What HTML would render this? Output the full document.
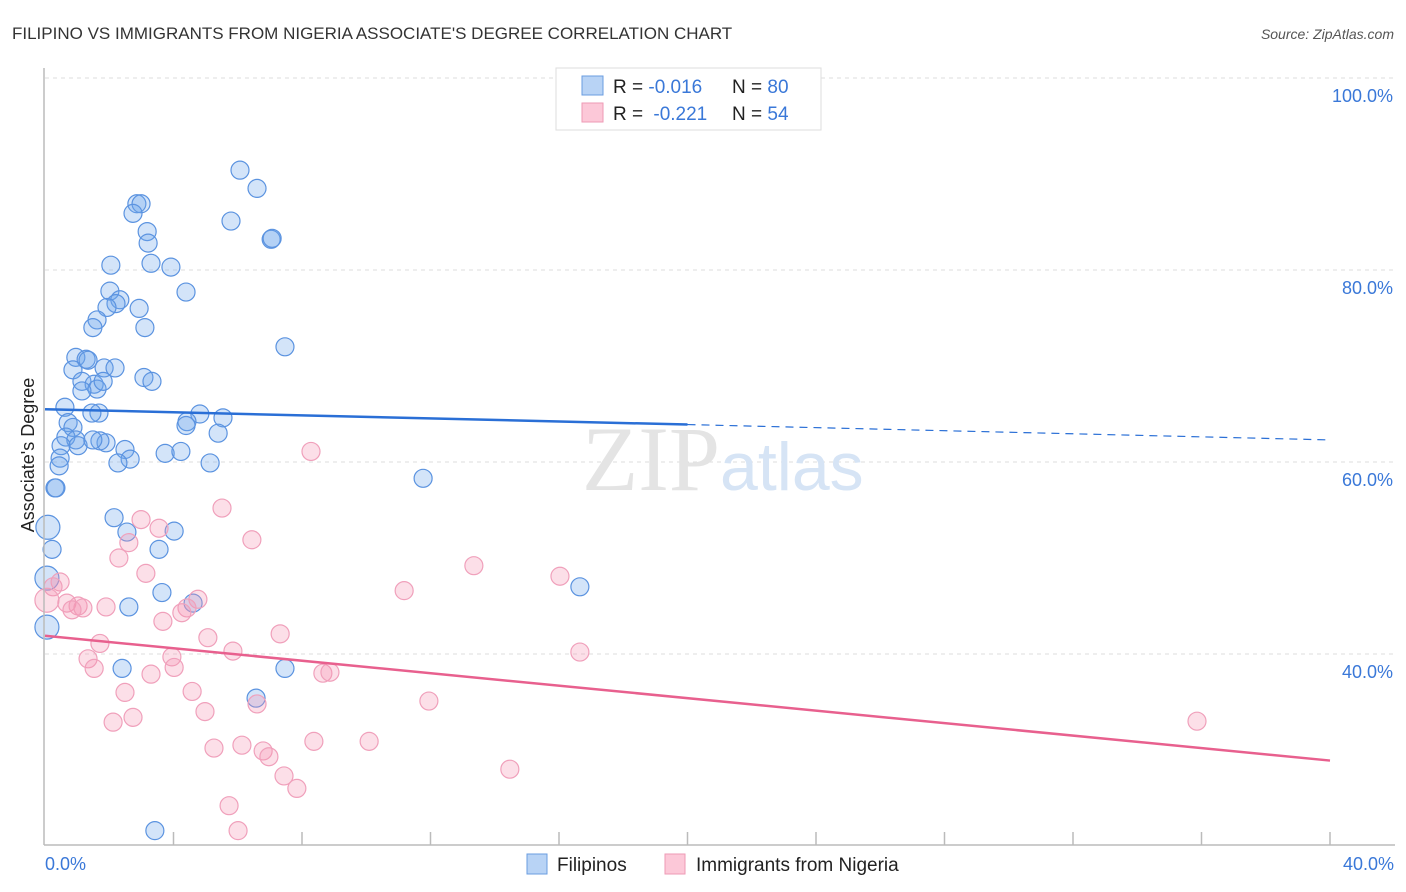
<!DOCTYPE html>
<html><head><meta charset="utf-8"><style>
body{margin:0;background:#fff;font-family:"Liberation Sans",sans-serif;}
svg{display:block}
</style></head><body>
<svg id="chart" width="1406" height="892">
<text x="12" y="39" font-size="17" fill="#333">FILIPINO VS IMMIGRANTS FROM NIGERIA ASSOCIATE'S DEGREE CORRELATION CHART</text>
<text x="1394" y="39" font-size="14" fill="#555" font-style="italic" text-anchor="end">Source: ZipAtlas.com</text>
<g id="grid"></g>
<text x="720" y="490" font-size="92" fill="#e4e4e4" font-family="Liberation Serif" text-anchor="end">ZIP</text>
<text x="720" y="490" font-size="68" fill="#d6e4f5">atlas</text>
<g id="pts"></g>
<g id="lines"></g>
<line x1="44" y1="68" x2="44" y2="845" stroke="#bbb" stroke-width="1.5"/>
<line x1="44" y1="845" x2="1395" y2="845" stroke="#bbb" stroke-width="1.5"/>
<g id="xticks"></g>
<text x="45" y="870" font-size="18" fill="#3a78d8">0.0%</text>
<text x="1394" y="870" font-size="18" fill="#3a78d8" text-anchor="end">40.0%</text>
<text transform="translate(34,455) rotate(-90)" font-size="18" fill="#222" text-anchor="middle">Associate's Degree</text>
<g>
<rect x="556" y="68" width="265" height="62" fill="#fff" stroke="#ddd"/>
<rect x="582" y="76" width="21" height="19" fill="#b8d3f5" stroke="#6a9de0"/>
<rect x="582" y="103" width="21" height="19" fill="#fcc8d8" stroke="#ee9ab5"/>
<text x="613" y="93" font-size="19" fill="#222">R = <tspan fill="#3a78d8">-0.016</tspan><tspan x="732">N = </tspan><tspan fill="#3a78d8">80</tspan></text>
<text x="613" y="120" font-size="19" fill="#222">R = <tspan fill="#3a78d8" dx="5">-0.221</tspan><tspan x="732">N = </tspan><tspan fill="#3a78d8">54</tspan></text>
</g>
<g>
<rect x="527" y="854" width="20" height="20" fill="#b8d3f5" stroke="#6a9de0"/>
<text x="557" y="871" font-size="19" fill="#222">Filipinos</text>
<rect x="665" y="854" width="20" height="20" fill="#fcc8d8" stroke="#ee9ab5"/>
<text x="696" y="871" font-size="19" fill="#222">Immigrants from Nigeria</text>
</g>
</svg>
<script>
const blueX=[6.07,6.60,5.79,7.04,7.07,2.86,2.99,2.74,3.18,3.21,3.30,3.92,2.05,4.39,2.02,2.33,2.21,1.93,2.93,1.62,1.49,3.11,7.47,0.96,1.28,1.34,0.87,1.84,2.18,3.08,3.33,1.15,1.53,1.62,1.81,1.15,0.62,1.68,1.46,4.82,5.54,4.42,4.39,0.72,0.87,5.39,0.65,0.96,1.90,2.49,0.50,1.03,3.74,4.23,2.65,0.47,5.14,2.27,0.44,11.77,0.31,0.34,0.09,0.22,2.15,2.55,4.02,3.55,0.06,3.64,4.61,2.61,0.06,2.40,7.47,16.65,6.57,3.42,1.71,1.49];
const blueY=[90.4,88.5,85.1,83.2,83.3,86.9,86.9,85.9,84.0,82.8,80.7,80.3,80.5,77.7,77.8,76.9,76.5,76.1,76.0,74.8,74.0,74.0,72.0,70.9,70.7,70.6,69.6,69.8,69.8,68.8,68.4,68.4,68.1,67.6,68.4,67.4,65.7,65.1,65.1,65.0,64.6,64.2,63.8,64.1,63.6,63.0,62.6,62.3,62.0,61.3,61.7,61.7,60.9,61.1,60.3,60.4,59.9,59.9,59.6,58.3,57.3,57.3,53.2,50.9,54.2,52.7,52.8,50.9,47.9,46.4,45.3,44.9,42.8,38.5,38.5,47.0,35.4,21.6,62.2,62.3];
const pinkX=[5.51,2.99,3.55,2.61,6.44,2.30,3.14,0.47,0.25,0.68,1.03,1.18,0.84,1.90,4.76,4.42,4.26,3.67,5.07,7.32,1.71,5.85,3.95,1.34,1.53,4.02,3.30,8.65,8.87,2.49,4.58,6.60,4.98,2.74,2.12,5.26,6.13,6.79,6.97,8.37,10.09,7.44,7.84,5.73,6.01,8.28,13.35,16.03,11.18,16.65,11.95,14.47,35.86,0.06];
const pinkY=[55.2,54.0,53.1,51.6,51.9,50.0,48.4,47.5,47.0,45.3,45.0,44.8,44.6,44.9,45.7,44.8,44.3,43.4,41.7,42.1,41.1,40.3,39.7,39.5,38.5,38.6,37.9,38.0,38.1,36.0,36.1,34.8,34.0,33.4,32.9,30.2,30.5,29.9,29.3,30.9,30.9,27.3,26.0,24.2,21.6,61.1,49.2,48.1,46.6,40.2,35.1,28.0,33.0,45.6];
const yTicks=[100,80,60,40];
const yTickLabels=["100.0%","80.0%","60.0%","40.0%"];
const xTickVals=[4,8,12,16,20,24,28,32,36,40];
const blueTrend=[65.5,62.3];
const pinkTrend=[41.9,28.9];
const NS='http://www.w3.org/2000/svg';
const sx=v=>45+v*32.125, sy=v=>78+(100-v)*9.6;
function mk(t,a,p){const e=document.createElementNS(NS,t);for(const k in a)e.setAttribute(k,a[k]);p.appendChild(e);return e;}
const grid=document.getElementById('grid');
yTicks.forEach((v,i)=>{
 const l=mk('line',{x1:45,x2:1395,y1:sy(v),y2:sy(v),stroke:'#ddd','stroke-dasharray':'4,4'},grid);
 
 
 const t=mk('text',{x:1393,y:sy(v)+24,'font-size':18,fill:'#3a78d8','text-anchor':'end'},grid);
 t.textContent=yTickLabels[i];
 
 
});
const xt=document.getElementById('xticks');
xTickVals.forEach(v=>{
 const l=mk('line',{x1:sx(v),x2:sx(v),y1:832,y2:845,stroke:'#bbb','stroke-width':1.5},xt);
 
 
});
const pts=document.getElementById('pts');
function draw(X,Y,fill,stroke,name){X.forEach((x,i)=>{
 const c=mk('circle',{cx:sx(x),cy:sy(Y[i]),r:x<0.2?12:9,fill:fill,stroke:stroke,'stroke-width':1.2},pts);
 
 
});}
draw(blueX,blueY,'rgba(110,165,235,0.3)','#5b93e0','filipino-point');
draw(pinkX,pinkY,'rgba(245,150,180,0.3)','#f0a0bb','nigeria-point');
const lg=document.getElementById('lines');
const bm=blueTrend[0]+(blueTrend[1]-blueTrend[0])*0.5;
const b1=mk('line',{x1:sx(0),y1:sy(blueTrend[0]),x2:sx(20),y2:sy(bm),stroke:'#2a6fd6','stroke-width':2.5},lg);


const b2=mk('line',{x1:sx(20),y1:sy(bm),x2:sx(40),y2:sy(blueTrend[1]),stroke:'#2a6fd6','stroke-width':1.2,'stroke-dasharray':'8,6'},lg);


const p1=mk('line',{x1:sx(0),y1:sy(pinkTrend[0]),x2:sx(40),y2:sy(pinkTrend[1]),stroke:'#e8608e','stroke-width':2.5},lg);


</script>
</body></html>
